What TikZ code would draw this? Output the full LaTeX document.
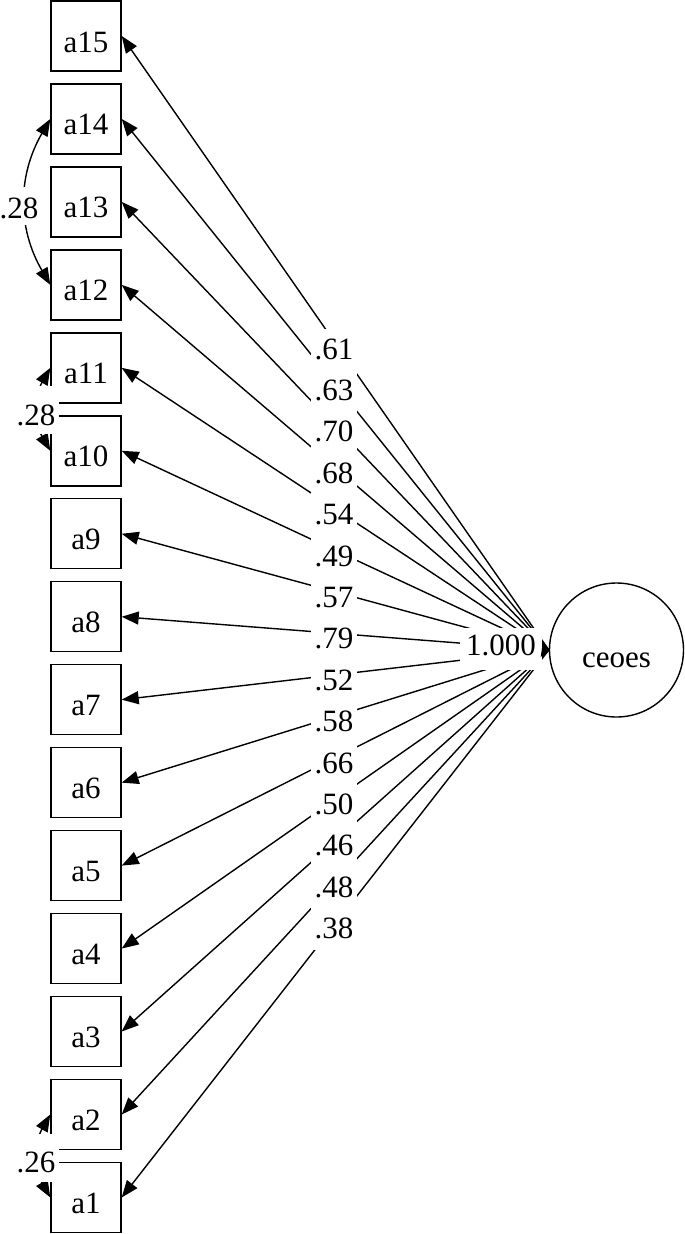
\documentclass[tikz,border=0pt]{standalone}
\usepackage{fontspec}
\setmainfont{Liberation Serif}
\usetikzlibrary{arrows.meta}
\begin{document}
\begin{tikzpicture}[x=1pt,y=-1pt,
  every node/.style={font=\fontsize{31}{37}\selectfont},
  obs/.style={draw, line width=1.4pt, minimum width=70pt, minimum height=70pt, inner sep=0pt, text height=32pt, text depth=0pt},
  lat/.style={draw, circle, line width=1.4pt, minimum size=134pt, inner sep=0pt, text height=34pt, text depth=0pt},
  lbl/.style={fill=white, inner xsep=4pt, inner ysep=0pt, anchor=base, text height=30pt, text depth=11.6pt},
  corlbl/.style={fill=white, inner xsep=4pt, inner ysep=0pt, anchor=base},
  tipA/.tip={Triangle[length=17pt,width=13pt]},
  load/.style={line width=1.4pt, -tipA},
  cov/.style={line width=1.4pt, tipA-tipA},
]
\useasboundingbox (0,0) rectangle (685,1234);
% observed variables
\foreach \i in {1,...,15} { \node[obs] (a\i) at (86,{36+82.96*(15-\i)}) {a\i}; }
% latent variable
\node[lat] (f) at (616.5,650) {ceoes};
% loadings
\foreach \i in {1,...,15} { \draw[load] (f.west) -- (a\i.east); }
\foreach \v [count=\k] in {.61,.63,.70,.68,.54,.49,.57,.79,.52,.58,.66,.50,.46,.48,.38} {
  \node[lbl] (l\k) at (334,{359+41.4*(\k-1)}) {\v};
}
% variance of latent
\node[lbl, inner xsep=6pt, text height=27pt, text depth=15pt] (v) at (501,655) {1.000};
\draw[line width=1.2pt, -{Triangle[length=7pt,width=16pt]}] (v.east) -- (f.west);
% covariances
\draw[cov] (a14.west) .. controls +(-33,57) and +(-33,-57) .. (a12.west);
\node[corlbl, text height=31pt, text depth=7pt] (c1) at (19,218) {.28};
\draw[cov] (a11.west) .. controls +(-16,28) and +(-16,-28) .. (a10.west);
\node[corlbl, text height=39pt, text depth=9pt] (c2) at (36,425) {.28};
\draw[cov] (a2.west) .. controls +(-16,28) and +(-16,-28) .. (a1.west);
\node[corlbl, text height=38pt, text depth=10pt] (c3) at (36,1172) {.26};
\end{tikzpicture}
\end{document}
